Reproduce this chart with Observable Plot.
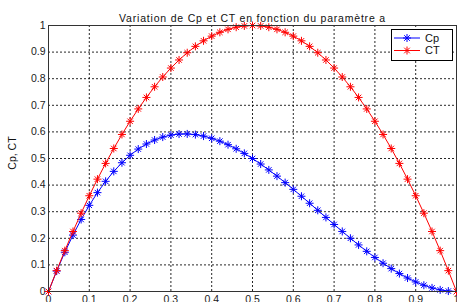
<!DOCTYPE html>
<html>
<head>
<meta charset="utf-8">
<script src="https://cdn.jsdelivr.net/npm/d3@7"></script>
<script src="https://cdn.jsdelivr.net/npm/@observablehq/plot@0.6"></script>
<style>
  html, body { margin: 0; padding: 0; background: #fff; }
  #wrap { position: relative; width: 457px; height: 302px; overflow: hidden; background: #fff; }
  #legend { position: absolute; left: 391px; top: 29px; width: 60px; height: 30px; border: 1px solid #000; background: #fff;
            font-family: "Liberation Sans", Arial, sans-serif; font-size: 11px; color: #111; }
  #ylabel { position: absolute; left: 12px; top: 153px; transform: translate(-50%, -50%) rotate(-90deg);
            font-family: "Liberation Sans", Arial, sans-serif; font-size: 10.5px; color: #111; white-space: nowrap; }
</style>
</head>
<body>
<div id="wrap"></div>
<script>
const titleText = "Variation de Cp et CT en fonction du paramètre a";
const yLabel = "Cp, CT";
const seriesNames = ["Cp", "CT"];
const seriesColors = ["#0000ff", "#ff0000"];
const tickValues = [0, 0.1, 0.2, 0.3, 0.4, 0.5, 0.6, 0.7, 0.8, 0.9, 1];

const a = [0, 0.02, 0.04, 0.06, 0.08, 0.10, 0.12, 0.14, 0.16, 0.18, 0.20, 0.22, 0.24, 0.26, 0.28, 0.30,
  0.32, 0.34, 0.36, 0.38, 0.40, 0.42, 0.44, 0.46, 0.48, 0.50, 0.52, 0.54, 0.56, 0.58, 0.60, 0.62, 0.64,
  0.66, 0.68, 0.70, 0.72, 0.74, 0.76, 0.78, 0.80, 0.82, 0.84, 0.86, 0.88, 0.90, 0.92, 0.94, 0.96, 0.98, 1.00];

const cp = [0, 0.0768, 0.1475, 0.2121, 0.2708, 0.3240, 0.3717, 0.4142, 0.4516, 0.4841, 0.5120, 0.5354,
  0.5545, 0.5695, 0.5806, 0.5880, 0.5919, 0.5924, 0.5898, 0.5843, 0.5760, 0.5652, 0.5519, 0.5365, 0.5192,
  0.5000, 0.4792, 0.4571, 0.4337, 0.4093, 0.3840, 0.3581, 0.3318, 0.3052, 0.2785, 0.2520, 0.2258, 0.2001,
  0.1751, 0.1510, 0.1280, 0.1063, 0.0860, 0.0674, 0.0507, 0.0360, 0.0236, 0.0135, 0.0061, 0.0016, 0];

const ct = [0, 0.0784, 0.1536, 0.2256, 0.2944, 0.3600, 0.4224, 0.4816, 0.5376, 0.5904, 0.6400, 0.6864,
  0.7296, 0.7696, 0.8064, 0.8400, 0.8704, 0.8976, 0.9216, 0.9424, 0.9600, 0.9744, 0.9856, 0.9936, 0.9984,
  1.0000, 0.9984, 0.9936, 0.9856, 0.9744, 0.9600, 0.9424, 0.9216, 0.8976, 0.8704, 0.8400, 0.8064, 0.7696,
  0.7296, 0.6864, 0.6400, 0.5904, 0.5376, 0.4816, 0.4224, 0.3600, 0.2944, 0.2256, 0.1536, 0.0784, 0];

const cpData = a.map((v, i) => ({a: v, y: cp[i]}));
const ctData = a.map((v, i) => ({a: v, y: ct[i]}));

function seriesMarks(data, color) {
  return [
    Plot.line(data, {x: "a", y: "y", stroke: color, strokeWidth: 1}),
    Plot.dot(data, {x: "a", y: "y", symbol: "plus", r: 2.7, stroke: color, strokeWidth: 1}),
    Plot.dot(data, {x: "a", y: "y", symbol: "times", r: 2.6, stroke: color, strokeWidth: 1})
  ];
}

const fmt = d => String(d);

const chart = Plot.plot({
  width: 457,
  height: 302,
  marginLeft: 48,
  marginRight: 1,
  marginTop: 25,
  marginBottom: 11,
  style: {fontFamily: "Liberation Sans, Arial, sans-serif", fontSize: "10.5px", background: "#fff", color: "#222", overflow: "visible"},
  x: {domain: [0, 1]},
  y: {domain: [0, 1]},
  marks: [
    Plot.gridX(tickValues, {stroke: "#000", strokeOpacity: 0.85, strokeDasharray: "2,2"}),
    Plot.gridY(tickValues, {stroke: "#000", strokeOpacity: 0.85, strokeDasharray: "2,2"}),
    Plot.axisX(tickValues, {tickSize: 0, tickPadding: 4, tickFormat: fmt, label: null}),
    Plot.axisY(tickValues, {tickSize: 0, tickPadding: 3, tickFormat: fmt, label: null}),
    ...seriesMarks(cpData, seriesColors[0]),
    ...seriesMarks(ctData, seriesColors[1]),
    Plot.frame({stroke: "#333"}),
    Plot.text([titleText], {frameAnchor: "top", dy: -11, fontSize: 10.5, fill: "#111", style: "letter-spacing:0.8px"})
  ]
});

const wrap = document.getElementById("wrap");
wrap.appendChild(chart);
// apply letter spacing to title text
chart.querySelectorAll("text").forEach(t => { if (t.textContent === titleText) t.setAttribute("letter-spacing", "0.8"); });

const yl = document.createElement("div");
yl.id = "ylabel";
yl.textContent = yLabel;
wrap.appendChild(yl);

// legend
const legend = document.createElement("div");
legend.id = "legend";
const star = "M-4,0H4M0,-4V4M-2.8,-2.8L2.8,2.8M-2.8,2.8L2.8,-2.8";
let svg = `<svg width="60" height="30" style="position:absolute;left:0;top:0">`;
seriesNames.forEach((name, i) => {
  const y = 8 + i * 12.5;
  svg += `<line x1="2" x2="28" y1="${y}" y2="${y}" stroke="${seriesColors[i]}" stroke-width="1"/>`;
  svg += `<path d="${star}" transform="translate(15,${y})" stroke="${seriesColors[i]}" fill="none" stroke-width="1"/>`;
  svg += `<text x="33" y="${y}" dy="0.35em" font-size="11" fill="#111" font-family="Liberation Sans, Arial, sans-serif">${name}</text>`;
});
svg += `</svg>`;
legend.innerHTML = svg;
wrap.appendChild(legend);
</script>
</body>
</html>
